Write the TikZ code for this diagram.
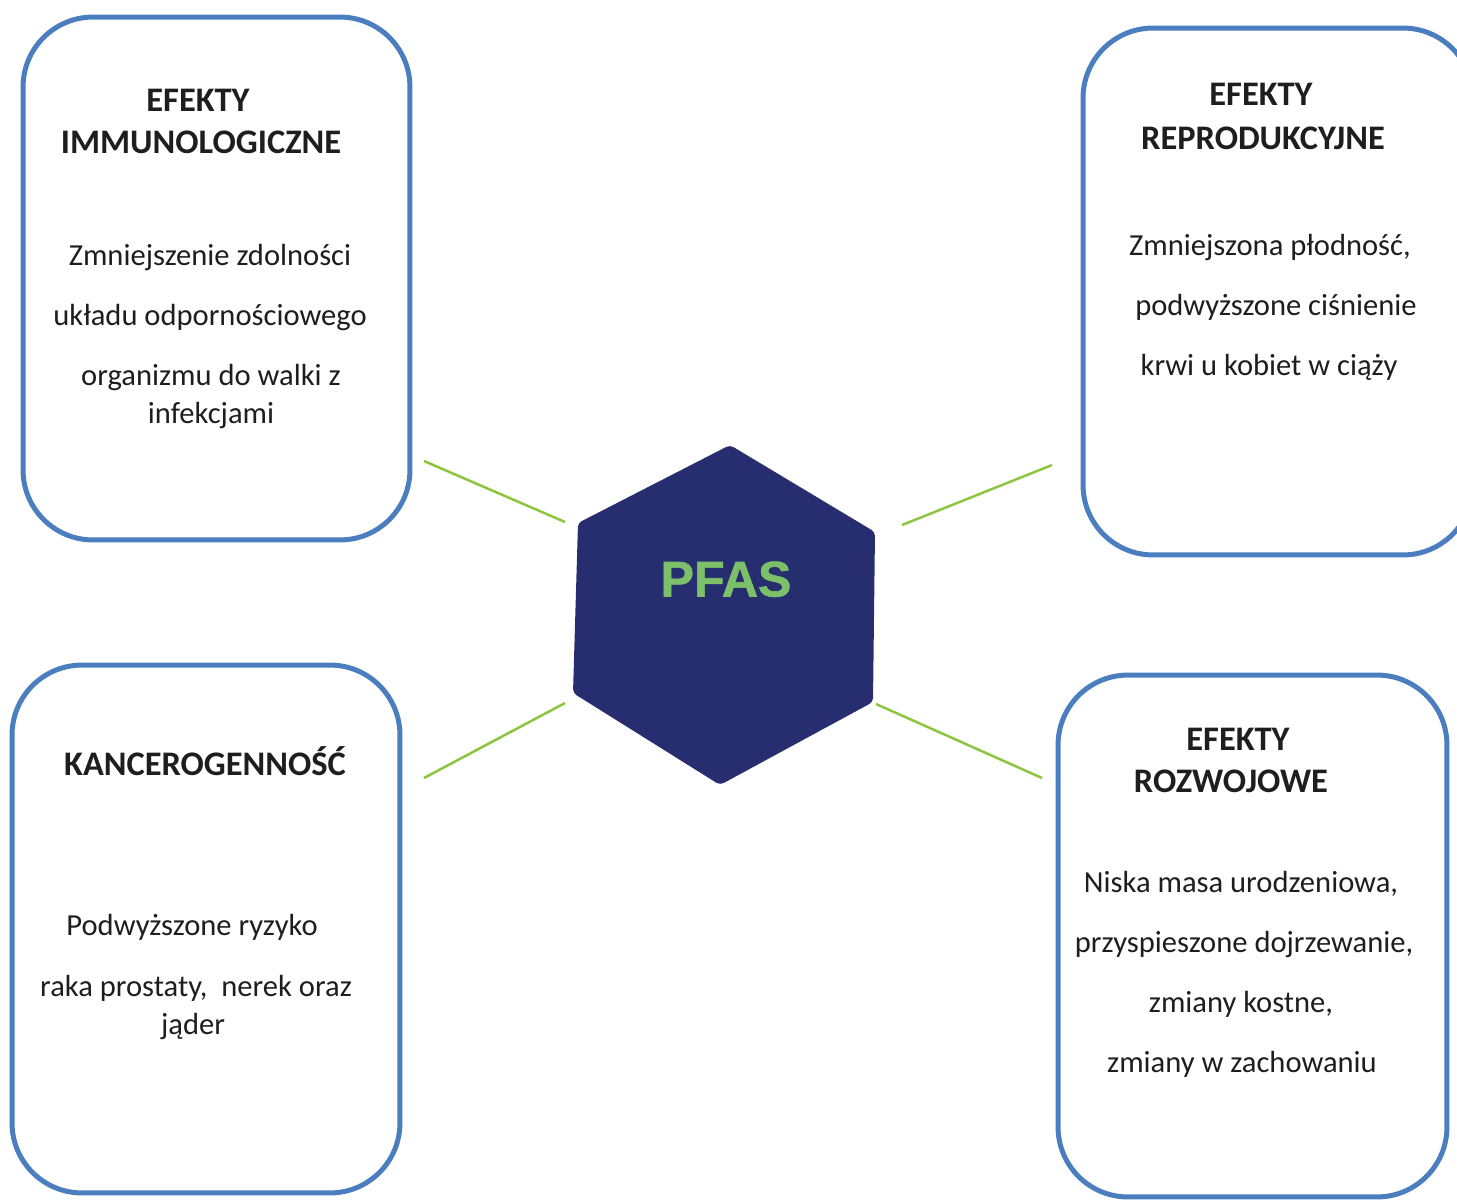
\documentclass[tikz,border=0pt]{standalone}
\usepackage{fontspec}
\setmainfont{Carlito}
\newfontfamily\pfasfont[BoldFeatures={FakeBold=1.2}]{Liberation Sans}
\definecolor{panelblue}{HTML}{4A7EBF}
\definecolor{navy}{HTML}{272E6F}
\definecolor{pfasgreen}{HTML}{7CC06A}
\definecolor{linkgreen}{HTML}{8CC63F}
\definecolor{ink}{HTML}{1E1E1E}
\begin{document}
\begin{tikzpicture}[x=0.02cm,y=-0.02cm,
  panel/.style={draw=panelblue, line width=0.1cm, rounded corners=1.4cm, fill=white, inner sep=0pt, outer sep=0pt},
  head/.style={font=\fontsize{19.6}{22}\selectfont\bfseries, text=ink, inner sep=0pt, anchor=base},
  body/.style={font=\fontsize{17.4}{20}\selectfont, text=ink, inner sep=0pt, anchor=base},
  link/.style={draw=linkgreen, line width=0.05cm}]
\useasboundingbox (0,0) rectangle (1457,1200);
\clip (0,0) rectangle (1457,1200);

% four effect panels
\node[panel, minimum width=7.74cm, minimum height=10.46cm] (immuno) at (216.5,278.5) {};
\node[panel, minimum width=7.80cm, minimum height=10.54cm] (repro)  at (1278,291.5) {};
\node[panel, minimum width=7.76cm, minimum height=10.56cm] (cancer) at (206,929) {};
\node[panel, minimum width=7.78cm, minimum height=10.44cm] (devel)  at (1252.5,936) {};

% central hexagon
\coordinate (h1) at (730,445);
\coordinate (h2) at (875,532);
\coordinate (h3) at (873,702);
\coordinate (h4) at (720,785);
\coordinate (h5) at (573,693);
\coordinate (h6) at (578,523);
\fill[navy, rounded corners=0.08cm] (h1) -- (h2) -- (h3) -- (h4) -- (h5) -- (h6) -- cycle;
\node[font=\pfasfont\fontsize{28.5}{30}\selectfont\bfseries, text=pfasgreen, inner sep=0pt, anchor=base] (pfas) at (726,596.5) {PFAS};

% connector ends
\coordinate (immunoEnd) at (424,461);
\coordinate (hexNW) at (565,522);
\coordinate (reproEnd) at (1052,465);
\coordinate (hexNE) at (902,525);
\coordinate (cancerEnd) at (424,778);
\coordinate (hexSW) at (565,703);
\coordinate (develEnd) at (1042,778);
\coordinate (hexSE) at (876,704);
\draw[link] (immunoEnd) -- (hexNW);
\draw[link] (hexNE) -- (reproEnd);
\draw[link] (cancerEnd) -- (hexSW);
\draw[link] (hexSE) -- (develEnd);

% immunological effects
\node[head] (immT1) at (198,111) {EFEKTY};
\node[head] (immT2) at (201,153) {IMMUNOLOGICZNE};
\node[body] (immB1) at (210,265) {Zmniejszenie zdolności};
\node[body] (immB2) at (210,325) {układu odpornościowego};
\node[body] (immB3) at (211,385) {organizmu do walki z};
\node[body] (immB4) at (211,423) {infekcjami};

% reproductive effects
\node[head] (repT1) at (1261,105) {EFEKTY};
\node[head] (repT2) at (1263,149) {REPRODUKCYJNE};
\node[body] (repB1) at (1270,255) {Zmniejszona płodność,};
\node[body] (repB2) at (1276,315) {podwyższone ciśnienie};
\node[body] (repB3) at (1269,375) {krwi u kobiet w ciąży};

% carcinogenicity
\node[head] (canT1) at (205,775) {KANCEROGENNOŚĆ};
\node[body] (canB1) at (192,935) {Podwyższone ryzyko};
\node[body] (canB2) at (196,996) {raka prostaty,\ \ nerek oraz};
\node[body] (canB3) at (193,1034) {jąder};

% developmental effects
\node[head] (devT1) at (1238,750) {EFEKTY};
\node[head] (devT2) at (1231,792) {ROZWOJOWE};
\node[body] (devB1) at (1241,892) {Niska masa urodzeniowa,};
\node[body] (devB2) at (1244,952) {przyspieszone dojrzewanie,};
\node[body] (devB3) at (1241,1012) {zmiany kostne,};
\node[body] (devB4) at (1242,1072) {zmiany w zachowaniu};
\end{tikzpicture}
\end{document}
